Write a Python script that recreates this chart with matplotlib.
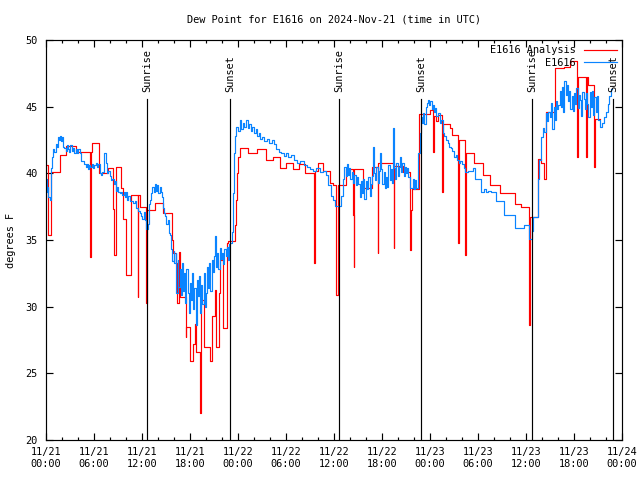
import matplotlib
matplotlib.use("Agg")
import matplotlib.pyplot as plt

# hours since 2024-11-21 00:00 UTC
ana_t = [0.0, 0.3, 0.65, 1.7, 2.55, 3.7, 5.5, 5.6, 5.7, 6.6, 7.75, 8.4, 8.5, 8.7, 9.4, 9.6,
         9.96, 10.67, 11.45, 11.55, 11.7, 12.45, 12.6, 13.6, 14.6, 15.7, 15.9, 16.2, 16.4, 16.6,
         16.7, 17.45, 17.55, 17.96, 18.4, 18.6, 18.8, 19.2, 19.3, 19.35, 19.4, 19.7, 20.5, 20.7,
         21.1, 21.3, 21.6, 21.75, 22.1, 22.6, 22.7, 23.6, 23.8, 23.9,
         24.0, 24.3, 25.2, 26.4, 27.5, 28.4, 29.2, 30.0, 30.9, 31.6, 32.4, 33.5, 33.6, 34.0,
         34.6, 35.5, 35.85, 36.2, 36.3, 36.45, 36.55, 37.5, 38.35, 38.45, 38.55, 39.6, 40.7,
         41.45, 41.55, 43.45, 43.55, 44.6, 45.5, 45.6, 45.7, 46.6, 47.96, 48.4, 48.5, 48.8,
         48.95, 49.55, 49.65, 50.5, 50.7, 51.5, 51.6, 52.35, 52.45, 53.5, 54.6, 55.5, 56.7,
         58.6, 59.4, 60.4, 60.45, 60.55, 61.5, 61.9, 62.2, 62.5, 63.6, 64.8, 65.5, 66.4, 66.5,
         67.5, 67.6, 67.8, 68.5, 68.65, 69.2]
ana_v = [40.6, 35.4, 40.1, 41.4, 42.05, 41.6, 33.75, 41.6, 42.3, 40.0, 40.4, 37.3, 33.9, 40.45, 38.9, 36.6,
         32.4, 38.4, 30.75, 38.4, 37.45, 30.25, 37.25, 37.75, 37.0, 35.0, 34.0, 33.25, 30.25, 34.1,
         30.75, 27.75, 28.5, 25.9, 27.2, 28.7, 26.6, 24.4, 22.0, 24.4, 30.5, 27.0, 25.9, 29.3,
         31.25, 27.0, 31.0, 33.5, 28.4, 34.75, 34.9, 36.1, 38.0, 40.0,
         41.2, 41.9, 41.5, 41.8, 41.0, 41.2, 40.4, 40.8, 40.3, 40.7, 40.0, 33.3, 40.2, 40.75,
         40.2, 39.25, 39.1, 35.0, 30.9, 31.2, 39.1, 40.3, 36.9, 33.0, 40.3, 38.9, 40.45,
         34.0, 40.75, 34.4, 40.55, 40.1, 34.25, 37.25, 38.8, 44.45, 44.75, 41.6, 44.3, 43.9,
         44.4, 38.6, 43.7, 43.4, 42.9, 34.75, 42.5, 33.9, 41.5, 40.75, 39.9, 39.1, 38.55,
         37.7, 37.5, 28.6, 32.8, 36.7, 41.1, 40.75, 39.6, 44.6, 47.9, 48.0, 48.4, 41.25, 47.2,
         41.25, 47.2, 46.6, 40.45, 44.1, 44.1]

obs_t = [0.0, 0.1, 0.2, 0.3, 0.45, 0.6, 0.75, 0.9, 1.05, 1.2, 1.35, 1.5, 1.6, 1.7, 1.85, 2.0,
         2.1, 2.3, 2.45, 2.6, 2.75, 2.9, 3.05, 3.2, 3.4, 3.55, 3.7, 3.85, 4.0, 4.2, 4.4, 4.6,
         4.8, 4.95, 5.1, 5.25, 5.4, 5.55, 5.7, 5.85, 6.0, 6.2, 6.35, 6.5, 6.7, 6.9, 7.05, 7.2,
         7.3, 7.45, 7.6, 7.8, 7.95, 8.1, 8.3, 8.45, 8.6, 8.75, 8.9, 9.05, 9.2, 9.4, 9.55, 9.7,
         9.85, 10.0, 10.15, 10.3, 10.5, 10.7, 10.9, 11.1, 11.3, 11.5, 11.7, 11.85, 12.0, 12.2,
         12.4, 12.55, 12.7, 12.85, 13.0, 13.15, 13.3, 13.45, 13.6, 13.75, 13.9, 14.05, 14.2,
         14.35, 14.5, 14.6, 14.75, 14.9, 15.05, 15.2, 15.35, 15.5, 15.65, 15.8, 15.95, 16.05,
         16.2, 16.3, 16.45, 16.55, 16.7, 16.85, 17.0, 17.1, 17.25, 17.4, 17.55, 17.7, 17.85,
         18.0, 18.1, 18.25, 18.4, 18.55, 18.7, 18.85, 19.0, 19.1, 19.25, 19.4, 19.55, 19.7,
         19.85, 20.0, 20.1, 20.25, 20.4, 20.55, 20.7, 20.85, 21.0, 21.1, 21.25, 21.4, 21.55,
         21.7, 21.85, 22.0, 22.15, 22.3, 22.45, 22.6, 22.75, 22.9, 23.05, 23.2, 23.35, 23.5,
         23.65, 23.8, 23.95,
         24.2, 24.4, 24.6, 24.8, 25.0, 25.2, 25.4, 25.6, 25.8, 26.0, 26.2, 26.4, 26.6, 26.8,
         27.0, 27.3, 27.6, 27.9, 28.2, 28.5, 28.8, 29.1, 29.4, 29.7, 30.0, 30.3, 30.6, 31.0,
         31.4, 31.8, 32.2, 32.6, 33.0, 33.4, 33.8, 34.2, 34.6, 35.0, 35.25, 35.6, 35.85, 36.1,
         36.9, 37.1, 37.3, 37.45, 37.6, 37.75, 37.9, 38.05, 38.2, 38.4, 38.55, 38.7, 38.85,
         39.0, 39.2, 39.35, 39.5, 39.65, 39.8, 40.0, 40.15, 40.3, 40.45, 40.6, 40.75, 40.9,
         41.0, 41.15, 41.3, 41.45, 41.6, 41.75, 41.9, 42.05, 42.2, 42.35, 42.5, 42.65, 42.8,
         42.95, 43.1, 43.25, 43.4, 43.5, 43.65, 43.8, 43.95, 44.1, 44.25, 44.4, 44.55, 44.7,
         44.85, 45.0, 45.15, 45.3, 45.5, 45.7, 45.85, 46.0, 46.15, 46.3, 46.45, 46.55, 46.7,
         46.85, 47.0, 47.15, 47.3, 47.45, 47.6, 47.75, 47.9, 48.05, 48.2, 48.35, 48.5, 48.65,
         48.8, 49.0, 49.2, 49.4, 49.6, 49.8, 50.0, 50.2, 50.4, 50.6, 50.8, 51.0, 51.2, 51.4,
         51.6, 51.8, 52.0, 52.2, 52.4, 52.8, 53.2, 53.4, 53.6, 54.4, 54.8, 55.0, 55.3, 55.6,
         56.3, 57.3, 58.6, 59.8, 60.4, 60.7, 60.9, 61.5, 61.65, 61.9, 62.1, 62.3, 62.5, 62.65,
         62.8, 63.0, 63.15, 63.3, 63.45, 63.6, 63.75, 63.9, 64.05, 64.2, 64.35, 64.5, 64.65,
         64.8, 64.95, 65.1, 65.25, 65.4, 65.55, 65.7, 65.85, 66.0, 66.15, 66.3, 66.45, 66.6,
         66.75, 66.9, 67.05, 67.2, 67.35, 67.5, 67.65, 67.8, 67.95, 68.1, 68.25, 68.4, 68.55,
         68.7, 68.85, 69.0, 69.2, 69.5, 69.8, 70.0, 70.2, 70.4, 70.6, 70.8]
obs_v = [39.6, 38.6, 39.0, 38.2, 38.0, 40.4, 41.2, 41.8, 41.6, 42.2, 42.0, 42.7, 42.5, 42.8, 42.4, 42.7,
         42.0, 41.9, 41.7, 42.1, 41.8, 41.6, 42.1, 41.7, 41.9, 41.5, 41.8, 41.5, 41.8, 41.5, 40.9, 40.9,
         40.7, 40.5, 40.7, 40.3, 40.6, 40.5, 40.7, 40.4, 40.6, 40.8, 40.5, 40.7, 40.0, 39.9, 40.1, 41.0,
         41.5, 40.8, 40.0, 40.2, 39.8, 39.5, 39.6, 39.2, 39.4, 38.7, 39.0, 38.6, 38.5, 38.6, 38.4, 38.6,
         38.2, 38.6, 38.0, 38.3, 37.9, 37.9, 37.8, 37.9, 37.4, 37.2, 37.0, 36.8, 36.6, 37.1,
         36.5, 35.8, 36.2, 37.7, 38.0, 38.5, 39.0, 38.6, 39.2, 38.7, 39.1, 38.5, 39.0,
         38.6, 38.2, 37.4, 37.0, 36.8, 36.2, 36.5, 35.5, 35.4, 34.3, 33.4, 34.2, 33.3,
         34.0, 31.0, 33.5, 31.5, 32.8, 30.9, 33.3, 31.2, 32.5, 30.3, 32.8, 31.0, 29.5,
         31.8, 30.5, 32.5, 29.8, 31.4, 28.6, 32.0, 30.8, 32.3, 29.5, 31.6, 30.2, 32.5,
         30.0, 31.0, 33.0, 31.4, 33.3, 31.2, 33.5, 32.6, 33.8, 35.3, 33.0, 34.0, 32.8,
         34.4, 33.6, 34.0, 33.2, 34.3, 33.8, 34.5, 33.5, 34.7, 34.8, 35.6, 38.5, 41.5,
         42.8, 43.5, 43.2,
         44.0, 43.3, 43.8, 43.5, 44.0, 43.4, 43.7, 43.2, 43.5, 43.0, 43.3, 42.8, 43.0, 42.6,
         42.7, 42.4, 42.6, 42.3, 42.5, 42.2, 41.8, 41.6, 41.5, 41.3, 41.5, 41.2, 41.4, 41.0,
         40.8, 40.9, 40.6, 40.5, 40.3, 40.2, 40.4, 40.1, 40.2, 39.9, 39.1, 38.3, 38.0, 37.55,
         38.3, 39.6, 40.5, 39.8, 40.7, 39.9, 40.4, 39.6, 40.1, 39.3, 39.9, 39.1, 39.7,
         39.2, 38.2, 39.4, 38.5, 39.6, 38.1, 39.4, 38.8, 39.7, 38.3, 39.2, 39.8, 42.0,
         40.0, 39.5, 40.5, 39.3, 40.2, 41.5, 40.3, 39.2, 40.1, 38.9, 39.7, 39.0, 40.6,
         39.5, 40.3, 39.3, 43.4, 40.4, 39.6, 40.8, 39.8, 40.5, 41.2, 40.1, 40.8, 39.8,
         40.5, 40.0, 40.4, 39.7, 38.9, 38.9, 39.6, 38.8, 39.5, 38.9, 40.2, 41.5, 43.0,
         44.2, 43.8, 44.5, 43.7, 45.0, 45.3, 45.5, 45.1, 45.4, 44.8, 45.1, 44.6, 44.9,
         44.3, 44.5, 43.8, 44.0, 43.0, 42.8, 42.5, 42.3, 42.0, 41.9, 41.7, 41.2, 41.4, 41.0,
         40.8, 40.9, 40.7, 40.4, 40.1, 40.2, 40.2, 40.4, 39.6, 38.6, 38.8, 38.6, 38.7, 38.6,
         37.9, 36.9, 35.9, 36.1, 35.1, 35.7, 36.75, 39.6, 41.0, 42.75, 43.4, 43.1, 44.5, 43.9,
         44.6, 44.2, 45.3, 43.3, 45.0, 44.0, 45.4, 44.8, 45.1, 46.2, 45.0, 46.5, 44.6,
         46.9, 45.9, 46.6, 45.4, 46.2, 44.8, 45.8, 44.7, 46.0, 45.2, 46.4, 44.9, 45.9,
         45.5, 44.3, 46.1, 45.6, 44.8, 46.0, 45.2, 44.2, 46.1, 45.0, 46.2, 44.4, 45.7,
         44.6, 45.8, 44.0, 43.5, 43.75, 44.2, 44.6, 45.2, 45.8, 46.3, 46.3]

sun_t = [12.63, 23.0, 36.63, 46.88, 60.75, 70.92]
sun_lbl = ["Sunrise", "Sunset", "Sunrise", "Sunset", "Sunrise", "Sunset"]

tick_hours = list(range(0, 73, 6))
tick_lbls = ["11/21\n00:00", "11/21\n06:00", "11/21\n12:00", "11/21\n18:00",
             "11/22\n00:00", "11/22\n06:00", "11/22\n12:00", "11/22\n18:00",
             "11/23\n00:00", "11/23\n06:00", "11/23\n12:00", "11/23\n18:00",
             "11/24\n00:00"]

plt.rcParams['font.family'] = ['DejaVu Sans Mono']
plt.rcParams['font.size'] = 7.4

fig = plt.figure(figsize=(6.4, 4.8), dpi=100)
ax = fig.add_axes([46/640, 40/480, 576/640, 400/480])

ax.plot(ana_t, ana_v, drawstyle='steps-post', color='#ff0000', lw=0.85, label='E1616 Analysis')
ax.plot(obs_t, obs_v, drawstyle='steps-post', color='#0a84ff', lw=0.85, label='E1616')

for t, lbl in zip(sun_t, sun_lbl):
    ax.plot([t, t], [20, 45.55], color='k', lw=0.85)
    ax.text(t, 46.1, lbl, rotation=90, ha='center', va='bottom')

ax.set_xlim(0, 72)
ax.set_ylim(20, 50)
ax.set_xticks(tick_hours)
ax.set_xticklabels(tick_lbls)
ax.set_xticks(range(0, 73, 2), minor=True)
ax.set_yticks(range(20, 51, 5))
ax.tick_params(which='major', direction='in', length=5, width=0.85, top=True, right=True)
ax.tick_params(which='minor', direction='in', length=2.5, width=0.85, top=True, right=True)
ax.tick_params(axis='x', pad=5)
ax.tick_params(axis='y', pad=6)
for s in ax.spines.values():
    s.set_linewidth(0.85)

ax.set_ylabel('degrees F', labelpad=7)
fig.text(334/640, 1 - 19/480, 'Dew Point for E1616 on 2024-Nov-21 (time in UTC)',
         ha='center', va='center')

ax.legend(loc='upper right', frameon=False, markerfirst=False, handlelength=3.2,
          handletextpad=0.8, borderaxespad=0.1, labelspacing=0.25)

fig.savefig('out.png', dpi=100)
